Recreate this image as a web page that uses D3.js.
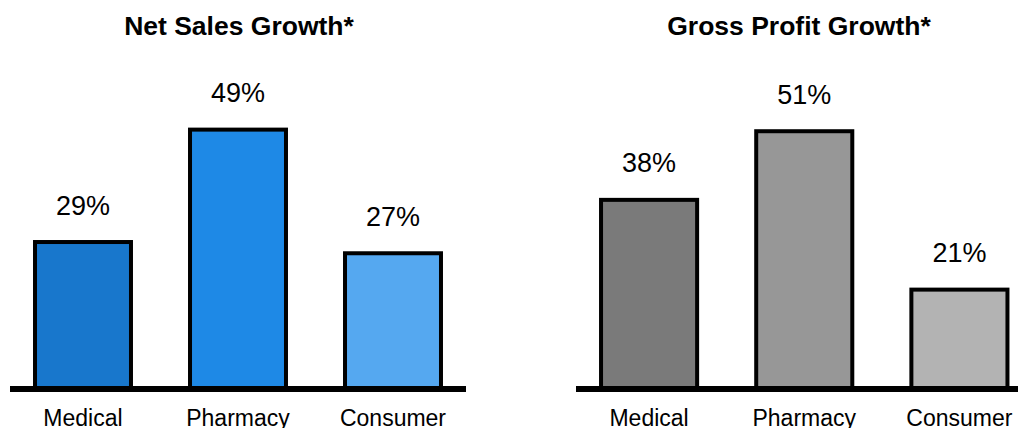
<!DOCTYPE html>
<style>
body {
  margin: 0;
  background: #fff;
}
svg {
  display: block;
  font-family: "Liberation Sans", Arial, sans-serif;
}
.bar {
  stroke: #000;
  stroke-width: 4;
}
.baseline {
  stroke: #000;
  stroke-width: 6;
}
.title {
  font-weight: bold;
  font-size: 26.5px;
}
.value {
  font-size: 27px;
}
.cat {
  font-size: 23px;
}
</style>
<svg width="1018" height="428"></svg>
<script src="https://d3js.org/d3.v7.min.js"></script>
<script>

var categories = ["Medical", "Pharmacy", "Consumer"];
var salesGrowth = [29, 49, 27];
var profitGrowth = [38, 51, 21];
var salesColors = ["#1877cc", "#1e89e6", "#55a8f0"];
var profitColors = ["#7a7a7a", "#979797", "#b3b3b3"];

var svg = d3.select("svg"),
    axisY = 389;

drawPanel({
  title: "Net Sales Growth*",
  values: salesGrowth,
  colors: salesColors,
  x: d3.scaleBand().domain(categories).range([5.5, 470.5]).paddingInner(0.355).paddingOuter(0.1775),
  y: d3.scaleLinear().domain([0, 50]).range([405, 124]),
  line: [10, 466],
  center: 239
});

drawPanel({
  title: "Gross Profit Growth*",
  values: profitGrowth,
  colors: profitColors,
  x: d3.scaleBand().domain(categories).range([571.5, 1037]).paddingInner(0.355).paddingOuter(0.1775),
  y: d3.scaleLinear().domain([0, 50]).range([400.5, 136.5]),
  line: [576, 1018],
  center: 799
});

function drawPanel(p) {
  var g = svg.append("g");
  var rows = categories.map((c, i) => ({ cat: c, v: p.values[i], color: p.colors[i] }));
  var mid = d => p.x(d.cat) + p.x.bandwidth() / 2;

  g.selectAll("rect")
    .data(rows)
    .join("rect")
    .attr("class", "bar")
    .attr("x", d => p.x(d.cat) + 2)
    .attr("width", p.x.bandwidth() - 4)
    .attr("y", d => p.y(d.v))
    .attr("height", d => axisY - p.y(d.v))
    .attr("fill", d => d.color);

  g.append("line")
    .attr("class", "baseline")
    .attr("x1", p.line[0])
    .attr("x2", p.line[1])
    .attr("y1", axisY)
    .attr("y2", axisY);

  g.selectAll(".value")
    .data(rows)
    .join("text")
    .attr("class", "value")
    .attr("text-anchor", "middle")
    .attr("x", mid)
    .attr("y", d => p.y(d.v) - 27.5)
    .text(d => d.v + "%");

  // category names sit right on the bottom edge, like the original
  g.selectAll(".cat")
    .data(rows)
    .join("text")
    .attr("class", "cat")
    .attr("text-anchor", "middle")
    .attr("x", mid)
    .attr("y", 426)
    .text(d => d.cat);

  g.append("text")
    .attr("class", "title")
    .attr("text-anchor", "middle")
    .attr("x", p.center)
    .attr("y", 34.5)
    .text(p.title);
}
</script>
